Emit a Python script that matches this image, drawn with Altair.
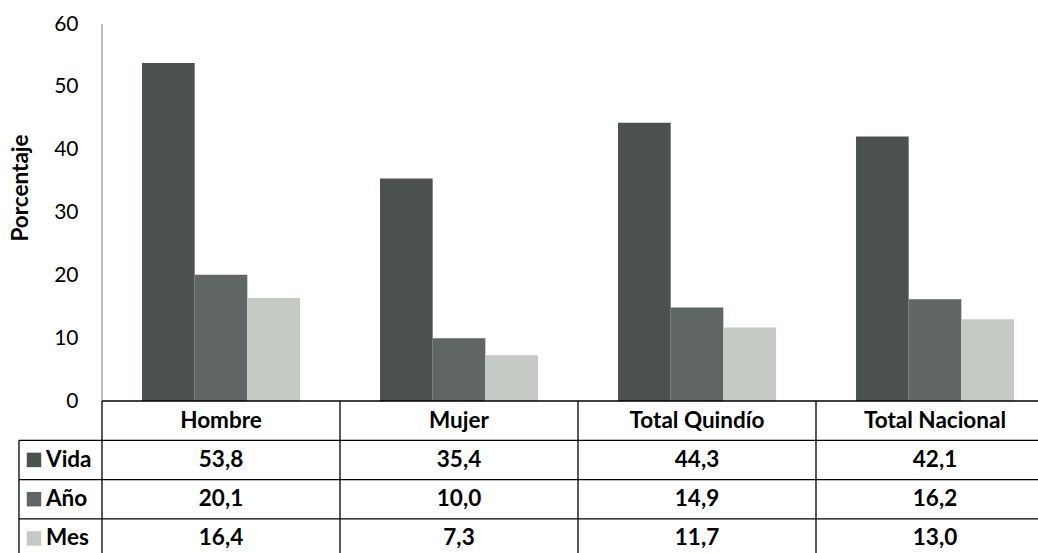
import altair as alt
import pandas as pd

# Prevalence of use by group (percent)
categories = ["Hombre", "Mujer", "Total Quindío", "Total Nacional"]
series = ["Vida", "Año", "Mes"]
vida = [53.8, 35.4, 44.3, 42.1]
anio = [20.1, 10.0, 14.9, 16.2]
mes = [16.4, 7.3, 11.7, 13.0]
colors = ["#4b524d", "#606565", "#c5cac4"]
y_ticks = [0, 10, 20, 30, 40, 50, 60]

FONT = "Lato"
TABLE_FS = 22.5
ROW = 6.25          # height of one table row, in y-axis units
Y_MIN = -24.19      # the data table hangs below zero on the same y scale
PLOT_W = 936
PLOT_H = 529

rows = []
for s_i, (name, vals) in enumerate(zip(series, [vida, anio, mes])):
    for cat, v in zip(categories, vals):
        rows.append({
            "cat": cat,
            "serie": name,
            "value": v,
            "label": f"{v:.1f}".replace(".", ","),
            "ycell": -ROW * (s_i + 1.5),
        })
df = pd.DataFrame(rows)

head_df = pd.DataFrame({"cat": categories, "ycell": [-ROW * 0.5] * len(categories)})
leg_df = pd.DataFrame({"serie": series, "ycell": [-ROW * (i + 1.5) for i in range(len(series))]})
hline_df = pd.DataFrame({"yv": [-ROW * (i + 1) for i in range(len(series))]})
vline_df = pd.DataFrame({"cat": categories, "y0": 0.0, "y1": Y_MIN})
axis_df = pd.DataFrame({"y0": [0.0], "y1": [60.0]})
base_df = pd.DataFrame({"y0": [0.0]})
edge_df = pd.DataFrame({"y0": [-ROW], "y1": [Y_MIN]})

yscale = alt.Scale(domain=[Y_MIN, 60], nice=False, zero=False)
yaxis = alt.Axis(values=y_ticks, domain=False, ticks=False, grid=False, title=None,
                 labelFont=FONT, labelFontSize=21, labelColor="#000000", labelPadding=24)
xscale = alt.Scale(domain=categories, range=[0, 952], paddingInner=0, paddingOuter=0)


def X(**kw):
    return alt.X("cat:N", scale=xscale, axis=None, **kw)


def Y(field, **kw):
    return alt.Y(field, scale=yscale, axis=yaxis, **kw)


color = alt.Color("serie:N", scale=alt.Scale(domain=series, range=colors), legend=None)

bars = alt.Chart(df).mark_bar().encode(
    x=X(),
    xOffset=alt.XOffset("serie:N", sort=series,
                        scale=alt.Scale(domain=series, paddingOuter=0.76, paddingInner=0)),
    y=Y("value:Q", stack=None),
    y2=alt.datum(0),
    color=color,
)

# y-axis line, only over the 0-60 range
y_axis_line = alt.Chart(axis_df).mark_rule(color="#a6a6a6", strokeWidth=1.5).encode(
    x=alt.value(0), y=Y("y0:Q"), y2="y1:Q"
)

# table: baseline under the bars and row separators
base_line = alt.Chart(base_df).mark_rule(color="#000000", strokeWidth=1.6).encode(
    x=alt.value(0), x2=alt.value(PLOT_W), y=Y("y0:Q")
)

row_lines = alt.Chart(hline_df).mark_rule(color="#000000", strokeWidth=1.3).encode(
    x=alt.value(-83), x2=alt.value(PLOT_W), y=Y("yv:Q")
)

col_lines = alt.Chart(vline_df).mark_rule(color="#000000", strokeWidth=1.3).encode(
    x=X(bandPosition=0), y=Y("y0:Q"), y2="y1:Q"
)

legend_edge = alt.Chart(edge_df).mark_rule(color="#000000", strokeWidth=1.3).encode(
    x=alt.value(-83), y=Y("y0:Q"), y2="y1:Q"
)

header_text = alt.Chart(head_df).mark_text(
    font=FONT, fontSize=TABLE_FS, fontWeight="bold", color="#000000", baseline="middle"
).encode(x=X(), y=Y("ycell:Q"), text="cat:N")

value_text = alt.Chart(df).mark_text(
    font=FONT, fontSize=TABLE_FS, fontWeight="bold", color="#000000", baseline="middle"
).encode(x=X(), y=Y("ycell:Q"), text="label:N")

legend_keys = alt.Chart(leg_df).mark_square(size=210, opacity=1).encode(
    x=alt.value(-68), y=Y("ycell:Q"), color=color
)

legend_text = alt.Chart(leg_df).mark_text(
    font=FONT, fontSize=TABLE_FS, fontWeight="bold", color="#000000", align="left", baseline="middle"
).encode(x=alt.value(-56), y=Y("ycell:Q"), text="serie:N")

y_title = alt.Chart(base_df).mark_text(
    font=FONT, fontSize=TABLE_FS, fontWeight="bold", color="#000000", angle=270,
    align="center", baseline="middle"
).encode(x=alt.value(-81), y=alt.value(164), text=alt.value("Porcentaje"))

chart = alt.layer(
    bars, y_axis_line, base_line, row_lines, col_lines, legend_edge,
    header_text, value_text, legend_keys, legend_text, y_title
).properties(
    width=PLOT_W, height=PLOT_H,
    background="#ffffff",
    autosize=alt.AutoSizeParams(type="none"),
    padding={"left": 102, "top": 24, "right": 0, "bottom": 0},
).configure_view(strokeWidth=0, stroke="transparent")

chart.save("out.html", embed_options={"renderer": "svg", "actions": False})
